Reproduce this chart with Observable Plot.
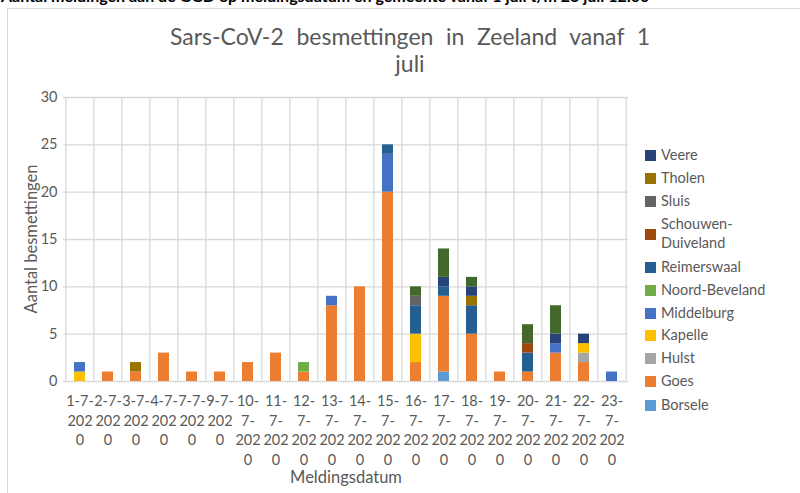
<!DOCTYPE html>
<html>
<head>
<meta charset="utf-8">
<script src="https://cdn.jsdelivr.net/npm/d3@7"></script>
<script src="https://cdn.jsdelivr.net/npm/@observablehq/plot@0.6"></script>
<style>
  html, body { margin: 0; padding: 0; background: #fff; }
  body { width: 800px; height: 493px; position: relative; overflow: hidden; font-family: Lato, "Open Sans", sans-serif; }
  .abs { position: absolute; white-space: pre; }
  #frame { position: absolute; left: 7px; top: 8px; width: 820px; height: 520px; border: 1px solid #d9d9d9; box-sizing: border-box; }
  #header { left: 1px; top: -14px; font-size: 16px; font-weight: bold; color: #000; line-height: 20px; }
  .title { font-size: 23px; color: #595959; line-height: 26px; }
  #legend div { position: absolute; left: 0; font-size: 14.5px; color: #595959; line-height: 19px; }
  #legend span.sw { position: absolute; left: 645px; width: 11px; height: 11px; }
</style>
</head>
<body>
<div id="frame"></div>
<div id="chart" style="position:absolute;left:0;top:0;"></div>
<div class="abs" id="header">Aantal meldingen aan de GGD op meldingsdatum en gemeente vanaf 1 juli t/m 23 juli 12:00</div>
<div class="abs title" id="t1" style="left:170px;top:23px;width:480px;text-align:justify;text-align-last:justify;white-space:normal;">Sars-CoV-2 besmettingen in Zeeland vanaf 1</div>
<div class="abs title" id="t2" style="left:310px;top:50px;width:200px;text-align:center;">juli</div>
<div class="abs" id="ylab" style="left:31px;top:239px;font-size:16.5px;color:#595959;transform:translate(-50%,-50%) rotate(-90deg);">Aantal besmettingen</div>
<div class="abs" id="xlab" style="left:346px;top:477px;font-size:16.5px;color:#595959;transform:translate(-50%,-50%);">Meldingsdatum</div>
<div id="legend"></div>
<script>
const dates = ["1-7-2020","2-7-2020","3-7-2020","4-7-2020","7-7-2020","9-7-2020","10-7-2020","11-7-2020","12-7-2020","13-7-2020","14-7-2020","15-7-2020","16-7-2020","17-7-2020","18-7-2020","19-7-2020","20-7-2020","21-7-2020","22-7-2020","23-7-2020"];
const tickLabels = ["1-7-\n202\n0","2-7-\n202\n0","3-7-\n202\n0","4-7-\n202\n0","7-7-\n202\n0","9-7-\n202\n0","10-\n7-\n202\n0","11-\n7-\n202\n0","12-\n7-\n202\n0","13-\n7-\n202\n0","14-\n7-\n202\n0","15-\n7-\n202\n0","16-\n7-\n202\n0","17-\n7-\n202\n0","18-\n7-\n202\n0","19-\n7-\n202\n0","20-\n7-\n202\n0","21-\n7-\n202\n0","22-\n7-\n202\n0","23-\n7-\n202\n0"];
const yTicks = [0, 5, 10, 15, 20, 25, 30];

// Series in stacking order (bottom to top)
const seriesNames = ["Borsele","Goes","Hulst","Kapelle","Middelburg","Noord-Beveland","Reimerswaal","Schouwen-Duiveland","Sluis","Tholen","Veere","Vlissingen"];
const seriesColors = ["#5B9BD5","#ED7D31","#A5A5A5","#FFC000","#4472C4","#70AD47","#255E91","#9E480E","#636363","#997300","#264478","#43682B"];

const borsele        = [0,0,0,0,0,0,0,0,0,0,0,0,0,1,0,0,0,0,0,0];
const goes           = [0,1,1,3,1,1,2,3,1,8,10,20,2,8,5,1,1,3,2,0];
const hulst          = [0,0,0,0,0,0,0,0,0,0,0,0,0,0,0,0,0,0,1,0];
const kapelle        = [1,0,0,0,0,0,0,0,0,0,0,0,3,0,0,0,0,0,1,0];
const middelburg     = [1,0,0,0,0,0,0,0,0,1,0,4,0,0,0,0,0,1,0,1];
const noordBeveland  = [0,0,0,0,0,0,0,0,1,0,0,0,0,0,0,0,0,0,0,0];
const reimerswaal    = [0,0,0,0,0,0,0,0,0,0,0,1,3,1,3,0,2,0,0,0];
const schouwen       = [0,0,0,0,0,0,0,0,0,0,0,0,0,0,0,0,1,0,0,0];
const sluis          = [0,0,0,0,0,0,0,0,0,0,0,0,1,0,0,0,0,0,0,0];
const tholen         = [0,0,1,0,0,0,0,0,0,0,0,0,0,0,1,0,0,0,0,0];
const veere          = [0,0,0,0,0,0,0,0,0,0,0,0,0,1,1,0,0,1,1,0];
const vlissingen     = [0,0,0,0,0,0,0,0,0,0,0,0,1,3,1,0,2,3,0,0];

// Legend as shown (top to bottom)
const legendItems = ["Veere","Tholen","Sluis","Schouwen-\nDuiveland","Reimerswaal","Noord-Beveland","Middelburg","Kapelle","Hulst","Goes","Borsele"];

const seriesValues = [borsele, goes, hulst, kapelle, middelburg, noordBeveland, reimerswaal, schouwen, sluis, tholen, veere, vlissingen];
const rows = [];
dates.forEach((d, i) => {
  seriesNames.forEach((s, k) => {
    const v = seriesValues[k][i];
    if (v > 0) rows.push({date: d, series: s, value: v});
  });
});

const W = 800, H = 493, mL = 63, mR = 172, mT = 97, mB = 112;
const step = (W - mL - mR) / dates.length;
const tickIndex = new Map(dates.map((d, i) => [d, i]));

const plot = Plot.plot({
  width: W, height: H,
  marginLeft: mL, marginRight: mR, marginTop: mT, marginBottom: mB,
  style: {background: "transparent", fontFamily: "Lato, 'Open Sans', sans-serif", fontSize: "14.5px", color: "#595959"},
  x: {type: "band", domain: dates, paddingInner: 0.61, paddingOuter: 0.305, axis: null},
  y: {domain: [0, 30], axis: null},
  color: {domain: seriesNames, range: seriesColors},
  marks: [
    Plot.ruleY(yTicks, {stroke: "#d9d9d9", strokeWidth: 1.3}),
    Plot.ruleX(dates, {x: d => d, dx: -step / 2, stroke: "#d9d9d9", strokeWidth: 1.3}),
    Plot.ruleX([dates[dates.length - 1]], {x: d => d, dx: step / 2, stroke: "#d9d9d9", strokeWidth: 1.3}),
    Plot.barY(rows, {x: "date", y: "value", fill: "series"}),
    Plot.axisY({ticks: yTicks, tickSize: 0, tickPadding: 6, label: null, fill: "#595959"}),
    Plot.axisX({tickSize: 0, tickPadding: 11, label: null, lineHeight: 1.34, fill: "#595959",
      tickFormat: d => tickLabels[tickIndex.get(d)]})
  ]
});
document.getElementById("chart").appendChild(plot);

// Legend
const legend = document.getElementById("legend");
const legendY = [155, 178, 201, 234, 267, 290, 313, 335, 358, 381, 405];
legendItems.forEach((name, i) => {
  const key = name.replace("\n", "");
  const color = seriesColors[seriesNames.indexOf(key)];
  const sw = document.createElement("span");
  sw.className = "sw";
  sw.style.top = (legendY[i] - 5.5) + "px";
  sw.style.background = color;
  legend.appendChild(sw);
  const lab = document.createElement("div");
  lab.className = "abs";
  lab.textContent = name;
  const lines = name.split("\n").length;
  lab.style.left = "661px";
  lab.style.top = (legendY[i] - lines * 19 / 2 - 1) + "px";
  legend.appendChild(lab);
});
</script>
</body>
</html>
